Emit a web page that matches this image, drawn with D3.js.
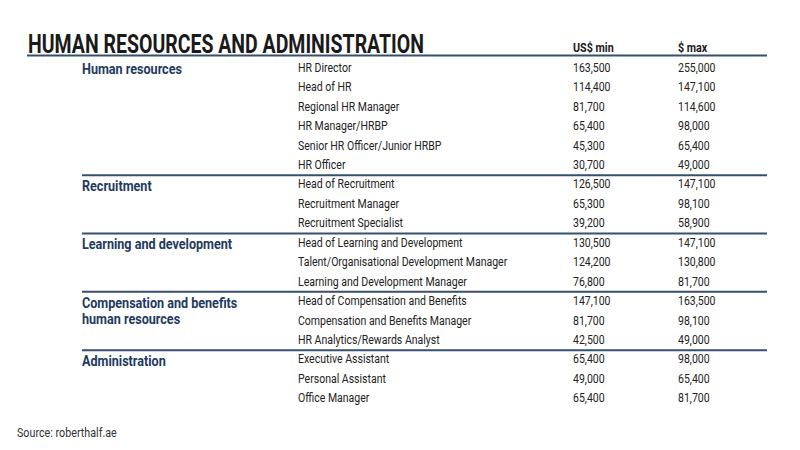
<!DOCTYPE html>
<html><head><meta charset="utf-8">
<script src="https://cdn.jsdelivr.net/npm/d3@7"></script>
<style>body{margin:0;background:#fff}svg{display:block}</style>
</head><body>
<svg id="chart" width="800" height="450"></svg>
<script>
const title = "HUMAN RESOURCES AND ADMINISTRATION";
const columnHeaders = ["US$ min", "$ max"];
const groups = ["Human resources", "Recruitment", "Learning and development", "Compensation and benefits\nhuman resources", "Administration"];
const groupSizes = [6, 3, 3, 3, 3];
const roles = ["HR Director", "Head of HR", "Regional HR Manager", "HR Manager/HRBP", "Senior HR Officer/Junior HRBP", "HR Officer",
  "Head of Recruitment", "Recruitment Manager", "Recruitment Specialist",
  "Head of Learning and Development", "Talent/Organisational Development Manager", "Learning and Development Manager",
  "Head of Compensation and Benefits", "Compensation and Benefits Manager", "HR Analytics/Rewards Analyst",
  "Executive Assistant", "Personal Assistant", "Office Manager"];
const minValues = [163500, 114400, 81700, 65400, 45300, 30700, 126500, 65300, 39200, 130500, 124200, 76800, 147100, 81700, 42500, 65400, 49000, 65400];
const maxValues = [255000, 147100, 114600, 98000, 65400, 49000, 147100, 98100, 58900, 147100, 130800, 81700, 163500, 98100, 49000, 98000, 65400, 81700];
const source = "Source: roberthalf.ae";

const svg = d3.select("#chart");
const FONT = "Roboto, 'Noto Sans', sans-serif";
const fmt = d3.format(",");

const y = d3.scaleBand().domain(d3.range(roles.length)).range([57.5, 407.5]);
const x = d3.scaleOrdinal().domain(["group", "role", "min", "max"]).range([82, 298, 573, 678]);
const lineColor = "#34506e";

function txt(g, xx, yy, s, size, weight, color, sx) {
  return g.append("text")
    .attr("transform", `translate(${xx},${yy}) scale(${sx || 0.82},1)`)
    .attr("font-family", FONT).attr("font-size", size).attr("font-weight", weight)
    .attr("fill", color).text(s);
}

// title
svg.append("text").attr("x", 28).attr("y", 52.5)
  .attr("font-family", FONT).attr("font-size", 25).attr("font-weight", 700)
  .attr("fill", "#1a1a1a").attr("textLength", 396).attr("lengthAdjust", "spacingAndGlyphs")
  .text(title);
txt(svg, x("min"), 52, columnHeaders[0], 12.5, 700, "#1a1a1a", 0.86);
txt(svg, x("max"), 52, columnHeaders[1], 12.5, 700, "#1a1a1a", 0.86);
svg.append("line").attr("x1", 27).attr("x2", 767).attr("y1", 55.5).attr("y2", 55.5)
  .attr("stroke", lineColor).attr("stroke-width", 2);

const base = i => y(i) + y.bandwidth() / 2 + 4.5;

// group separators & labels
let start = 0;
groups.forEach((gname, gi) => {
  if (gi > 0) {
    const ly = y(start) + 1;
    svg.append("line").attr("x1", 82).attr("x2", 767).attr("y1", ly).attr("y2", ly)
      .attr("stroke", lineColor).attr("stroke-width", 2);
  }
  gname.split("\n").forEach((part, k) => {
    txt(svg, x("group"), base(start) + 2.5 + k * 16, part, 14, 700, "#1e3a60", 0.9);
  });
  start += groupSizes[gi];
});

// rows
const rows = svg.append("g");
roles.forEach((r, i) => {
  txt(rows, x("role"), base(i), r, 13, 400, "#222", 0.81);
  txt(rows, x("min"), base(i), fmt(minValues[i]), 13, 400, "#222", 0.81);
  txt(rows, x("max"), base(i), fmt(maxValues[i]), 13, 400, "#222", 0.81);
});

txt(svg, 17, 437, source, 12.5, 400, "#333", 0.86);
</script>
</body></html>
